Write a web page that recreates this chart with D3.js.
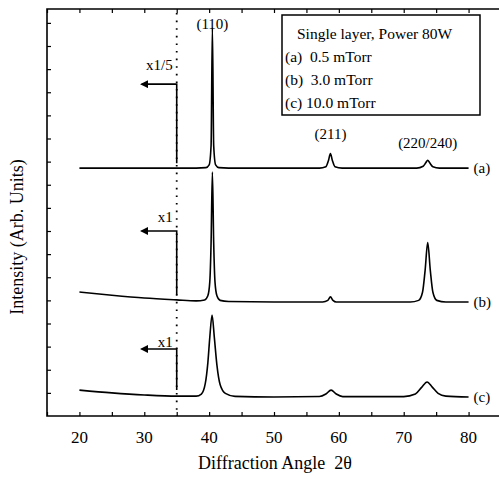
<!DOCTYPE html>
<html><head><meta charset="utf-8">
<script src="https://cdn.jsdelivr.net/npm/d3@7"></script>
<style>body{margin:0;background:#fff}svg{display:block}text{font-family:"Liberation Serif","Times New Roman",serif;fill:#000;white-space:pre}</style>
</head><body><svg id="c" width="499" height="479"></svg>
<script>
// ---- data ----
const xTicks = [20,30,40,50,60,70,80];
const minorX = [15,20,25,30,35,40,45,50,55,60,65,70,75,80];
const yTickVals = [1,2,3,4,5,6,7,8,9,10,11,12,13,14,15,16,17];
const seriesNames = ["(a)","(b)","(c)"];
const seriesA = [[20,10.72],[30,10.72],[38,10.72],[39.5,10.74],[40.0,10.86],[40.3,11.7],[40.5,16.8],[40.7,11.7],[41.0,10.86],[41.5,10.74],[43,10.72],[57,10.72],[58.0,10.78],[58.4,11.05],[58.7,11.35],[59.0,11.05],[59.4,10.78],[60.5,10.72],[72,10.72],[73.0,10.8],[73.4,10.95],[73.7,11.06],[74.0,10.95],[74.5,10.78],[75.5,10.72],[80,10.72]];
const seriesB = [[20,5.36],[25,5.22],[30,5.1],[35,5.02],[38,4.98],[39.3,5.02],[39.8,5.2],[40.1,5.8],[40.3,7.5],[40.5,10.55],[40.7,7.5],[40.9,5.8],[41.2,5.2],[41.7,5.0],[43,4.95],[50,4.93],[57.5,4.93],[58.3,5.0],[58.7,5.15],[59.1,5.0],[59.6,4.93],[71,4.93],[72.3,5.0],[72.9,5.35],[73.3,6.3],[73.7,7.5],[74.1,6.3],[74.5,5.35],[75.1,5.0],[76.5,4.93],[80,4.93]];
const seriesC = [[20,1.12],[25,1.0],[30,0.91],[35,0.86],[38,0.86],[38.8,0.95],[39.4,1.4],[39.8,2.3],[40.1,3.4],[40.45,4.37],[40.8,3.4],[41.2,2.2],[41.7,1.35],[42.5,0.98],[44,0.85],[50,0.82],[57,0.84],[58.0,0.95],[58.8,1.12],[59.6,0.95],[60.6,0.84],[70,0.84],[71.8,0.95],[72.8,1.25],[73.6,1.47],[74.4,1.25],[75.3,0.98],[76.5,0.86],[80,0.82]];
const peakLabels = [["(110)",40.5,16.75],["(211)",58.7,12.0],["(220/240)",73.7,11.6]];
const scaleMarks = [["x1/5",14.35,15.2],["x1",8.0,8.6],["x1",2.9,3.2]]; // text, arrow level, text level
const legendLines = ["Single layer, Power 80W","(a)  0.5 mTorr","(b)  3.0 mTorr","(c) 10.0 mTorr"];

// ---- layout ----
const svg = d3.select("#c");
const L=47, R=501, T=9, B=416;
const x = d3.scaleLinear().domain([15,85]).range([L,R]);
const y = d3.scaleLinear().domain([0,17.6]).range([B,T]);
const g = svg.append("g");

// frame
g.append("path").attr("d",`M${R},${T}H${L}V${B}H${R}`).attr("fill","none").attr("stroke","#000").attr("stroke-width",1.6);

// bottom axis (ticks inward)
const bx = g.append("g").attr("transform",`translate(0,${B})`)
  .call(d3.axisBottom(x).tickValues(minorX).tickSize(-4).tickFormat(""));
bx.select(".domain").remove();
bx.selectAll("line").attr("stroke","#000").attr("stroke-width",1.2);
g.selectAll(".xl").data(xTicks).enter().append("text")
  .attr("x",d=>x(d)).attr("y",443).attr("text-anchor","middle").attr("font-size",17).text(d=>d);
// top axis
const tx = g.append("g").attr("transform",`translate(0,${T})`)
  .call(d3.axisTop(x).tickValues(minorX).tickSize(-4).tickFormat(""));
tx.select(".domain").remove();
tx.selectAll("line").attr("stroke","#000").attr("stroke-width",1.2);
// left axis
const ly = g.append("g").attr("transform",`translate(${L},0)`)
  .call(d3.axisLeft(y).tickValues(yTickVals).tickSize(-4).tickFormat(""));
ly.select(".domain").remove();
ly.selectAll("line").attr("stroke","#000").attr("stroke-width",1.2);

// dotted line at 35
g.append("line").attr("x1",x(35)).attr("x2",x(35)).attr("y1",T+4).attr("y2",B)
  .attr("stroke","#000").attr("stroke-width",1.8).attr("stroke-dasharray","1.6,6");

// curves
const line = d3.line().x(d=>x(d[0])).y(d=>y(d[1])).curve(d3.curveMonotoneX);
[seriesA,seriesB,seriesC].forEach((s,i)=>{
  g.append("path").attr("d",line(s)).attr("fill","none").attr("stroke","#000").attr("stroke-width",1.6);
  const last = s[s.length-1];
  g.append("text").attr("x",x(last[0])+5).attr("y",y(last[1])+5).attr("font-size",15).text(seriesNames[i]);
});

// peak labels
peakLabels.forEach(p=>{
  g.append("text").attr("x",x(p[1])).attr("y",y(p[2])).attr("text-anchor","middle").attr("font-size",15).text(p[0]);
});

// scale markers with arrows
svg.append("defs").append("marker").attr("id","ah").attr("viewBox","0 0 10 10").attr("refX",8).attr("refY",5)
  .attr("markerWidth",5).attr("markerHeight",5).attr("orient","auto")
  .append("path").attr("d","M0,0L10,5L0,10z").attr("fill","#000");
const lows=[10.8,5.1,1.0];
scaleMarks.forEach((m,i)=>{
  const xa=x(35);
  g.append("path").attr("d",`M${xa},${y(lows[i])-3}V${y(m[1])}H${x(29.6)}`).attr("fill","none")
    .attr("stroke","#000").attr("stroke-width",1.6).attr("marker-end","url(#ah)");
  g.append("text").attr("x",xa-4).attr("y",y(m[2])+5).attr("text-anchor","end").attr("font-size",15).text(m[0]);
});

// legend box
const lg = g.append("g");
lg.append("rect").attr("x",282).attr("y",15).attr("width",198).attr("height",100).attr("fill","#fff").attr("stroke","#000").attr("stroke-width",1.5);
legendLines.forEach((t,i)=>{
  lg.append("text").attr("x",i===0?297:285).attr("y",39+i*23).attr("font-size",15.5).text(t);
});

// axis titles
g.append("text").attr("x",275).attr("y",469).attr("text-anchor","middle").attr("font-size",18).text("Diffraction Angle  2θ");
g.append("text").attr("transform","translate(23,237) rotate(-90)").attr("text-anchor","middle").attr("font-size",18).text("Intensity (Arb. Units)");
</script></body></html>
